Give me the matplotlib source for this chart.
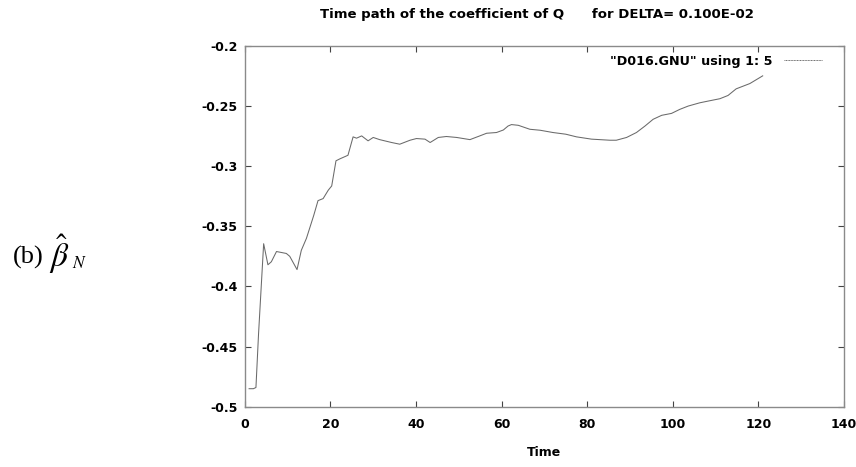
import numpy as np
import matplotlib
matplotlib.use("Agg")
import matplotlib.pyplot as plt

# Time path of the estimated coefficient (column 5 of D016.GNU)
time = [1, 2, 2.6, 3.2, 4.4, 5.4, 6.2, 7.4, 9.7, 10.5, 12.2, 13.2, 14.4,
        16.1, 17.1, 18.3, 19.5, 20.3, 21.3, 22.2, 24.1, 25.3, 26.1, 27.3,
        28.8, 30, 31.5, 34.3, 36.2, 38.6, 40.1, 42.1, 43.3, 45.2, 47.1,
        49.5, 52.6, 54.9, 56.5, 58.8, 60.4, 61.5, 62.3, 63.9, 66.6, 69,
        72, 75, 77.5, 81, 85.3, 86.8, 89.2, 91.5, 93.5, 95.4, 97.4, 99.7,
        101.6, 103.6, 106.3, 108.2, 111, 112.9, 114.8, 118, 121]
beta = [-0.485, -0.485, -0.484, -0.44, -0.3645, -0.382, -0.3795, -0.371,
        -0.3726, -0.375, -0.386, -0.370, -0.360, -0.341, -0.3287, -0.327,
        -0.320, -0.3165, -0.2956, -0.294, -0.291, -0.2757, -0.2768,
        -0.2749, -0.279, -0.2762, -0.278, -0.2804, -0.2818, -0.2785,
        -0.2771, -0.2776, -0.2804, -0.2762, -0.2754, -0.2762, -0.278,
        -0.2749, -0.2727, -0.2721, -0.270, -0.2667, -0.2655, -0.2661,
        -0.2694, -0.2702, -0.2721, -0.2735, -0.2757, -0.2776, -0.2785,
        -0.2785, -0.2762, -0.2721, -0.2667, -0.2611, -0.2578, -0.2562,
        -0.2529, -0.2501, -0.2474, -0.246, -0.244, -0.2413, -0.2358,
        -0.2314, -0.225]

xticks = [0, 20, 40, 60, 80, 100, 120, 140]
yticks = [-0.5, -0.45, -0.4, -0.35, -0.3, -0.25, -0.2]
ytick_labels = ["-0.5", "-0.45", "-0.4", "-0.35", "-0.3", "-0.25", "-0.2"]

plt.rcParams["font.family"] = ["DejaVu Sans"]

fig = plt.figure(figsize=(8.56, 4.67), dpi=100)
ax = fig.add_axes([0.286, 0.129, 0.700, 0.773])

line_col = "#6a6a6a"
ax.plot(time, beta, color=line_col, lw=0.75, label='"D016.GNU" using 1: 5')

ax.set_xlim(0, 140)
ax.set_ylim(-0.5, -0.2)
ax.set_xticks(xticks)
ax.set_yticks(yticks)
ax.set_yticklabels(ytick_labels)
ax.tick_params(direction="in", length=4, width=0.8, color="#444444",
               top=True, right=True, labelsize=9)
ax.tick_params(axis="y", pad=5)
ax.tick_params(axis="x", pad=8)
for lab in ax.get_xticklabels() + ax.get_yticklabels():
    lab.set_fontweight("bold")

for sp in ax.spines.values():
    sp.set_color("#8a8a8a")
    sp.set_linewidth(1.0)

ax.set_xlabel("Time", fontsize=9, fontweight="bold", labelpad=11)
fig.text(0.627, 0.968,
         "Time path of the coefficient of Q      for DELTA= 0.100E-02",
         fontsize=9.5, fontweight="bold", ha="center", va="center")

leg = ax.legend(loc="upper right", bbox_to_anchor=(0.963, 0.975),
                frameon=False, handlelength=3.0, handletextpad=0.9,
                borderpad=0, borderaxespad=0, markerfirst=False,
                prop={"weight": "bold", "size": 9.2})
leg.get_lines()[0].set_linestyle((0, (1, 0.6)))
leg.get_lines()[0].set_linewidth(0.7)

# panel label: (b) beta-hat with subscript N
fig.text(0.0148, 0.435, "(b)", fontsize=19, va="baseline",
         family="Liberation Serif")
fig.text(0.0578, 0.428, r"$\hat{\beta}$", fontsize=24, va="baseline",
         math_fontfamily="stix")
fig.text(0.0845, 0.426, r"$N$", fontsize=12.5, va="baseline",
         math_fontfamily="stix")

fig.savefig("out.png", dpi=100)
